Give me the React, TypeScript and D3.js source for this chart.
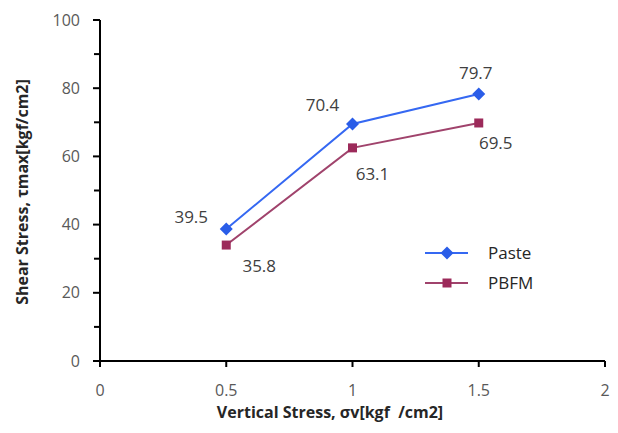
import React from "react";
import * as d3 from "d3";

const xValues = [0.5, 1, 1.5];
const pasteValues = [38.7, 69.5, 78.3];
const pbfmValues = [34.0, 62.5, 69.8];
const pasteLabels = ["39.5", "70.4", "79.7"];
const pbfmLabels = ["35.8", "63.1", "69.5"];
const xTicks = [0, 0.5, 1, 1.5, 2];
const yTicks = [0, 20, 40, 60, 80, 100];
const yMinorTicks = [10, 30, 50, 70, 90];
const seriesNames = ["Paste", "PBFM"];

const W = 618;
const H = 433;
const left = 100;
const right = 605;
const top = 20;
const bottom = 361;

const pasteColor = "#3568f2";
const pasteMarker = "#2a5de8";
const pbfmColor = "#a0436c";
const pbfmMarker = "#9c2a5a";
const font = "'Open Sans', 'Liberation Sans', sans-serif";

export default function App() {
  const x = d3.scaleLinear().domain([0, 2]).range([left, right]);
  const y = d3.scaleLinear().domain([0, 100]).range([bottom, top]);
  const line = d3
    .line<[number, number]>()
    .x((d) => x(d[0]))
    .y((d) => y(d[1]));
  const pastePts = xValues.map((v, i) => [v, pasteValues[i]] as [number, number]);
  const pbfmPts = xValues.map((v, i) => [v, pbfmValues[i]] as [number, number]);
  const r = 6.5;
  const diamond = `M0,${-r}L${r},0L0,${r}L${-r},0Z`;
  const square = d3.symbol().type(d3.symbolSquare).size(81)();

  // label offsets (dx, dy) relative to point
  const pasteOff: [number, number][] = [[-35, -12], [-30, -19], [-3, -21]];
  const pbfmOff: [number, number][] = [[33, 21], [20, 26], [17, 20]];

  return (
    <svg
      width={W}
      height={H}
      style={{ position: "absolute", left: 0, top: 0, background: "#fff" }}
      fontFamily={font}
    >
      {/* y axis */}
      <line x1={left} x2={left} y1={top} y2={bottom} stroke="#000" strokeWidth={2} />
      {yTicks.map((t) => (
        <g key={"y" + t}>
          <line x1={left - 7} x2={left} y1={y(t)} y2={y(t)} stroke="#000" strokeWidth={2} />
          <text x={left - 20} y={y(t)} dy="0.35em" textAnchor="end" fontSize={16} fill="#595959">
            {t}
          </text>
        </g>
      ))}
      {yMinorTicks.map((t) => (
        <line key={"ym" + t} x1={left - 6} x2={left} y1={y(t)} y2={y(t)} stroke="#000" strokeWidth={2} />
      ))}
      {/* x axis */}
      <line x1={left - 7} x2={right} y1={bottom} y2={bottom} stroke="#000" strokeWidth={2} />
      {xTicks.map((t) => (
        <g key={"x" + t}>
          <line x1={x(t)} x2={x(t)} y1={bottom} y2={bottom + 6} stroke="#000" strokeWidth={2} />
          <text x={x(t)} y={bottom + 35} textAnchor="middle" fontSize={16} fill="#595959">
            {t}
          </text>
        </g>
      ))}
      {/* axis titles */}
      <text
        x={330}
        y={418}
        textAnchor="middle"
        fontSize={16}
        fontWeight="bold"
        fill="#262626"
        style={{ whiteSpace: "pre" }}
      >
        {"Vertical Stress, σv[kgf  /cm2]"}
      </text>
      <text
        transform={`translate(28,${192}) rotate(-90)`}
        textAnchor="middle"
        fontSize={16}
        fontWeight="bold"
        fill="#262626"
      >
        Shear Stress, τmax[kgf/cm2]
      </text>
      {/* lines */}
      <path d={line(pastePts) || ""} fill="none" stroke={pasteColor} strokeWidth={2} />
      <path d={line(pbfmPts) || ""} fill="none" stroke={pbfmColor} strokeWidth={2} />
      {pastePts.map((p, i) => (
        <path key={"pm" + i} d={diamond} transform={`translate(${x(p[0])},${y(p[1])})`} fill={pasteMarker} />
      ))}
      {pbfmPts.map((p, i) => (
        <path key={"bm" + i} d={square || ""} transform={`translate(${x(p[0])},${y(p[1])})`} fill={pbfmMarker} />
      ))}
      {/* data labels */}
      {pastePts.map((p, i) => (
        <text
          key={"pl" + i}
          x={x(p[0]) + pasteOff[i][0]}
          y={y(p[1]) + pasteOff[i][1]}
          dy="0.35em"
          textAnchor="middle"
          fontSize={17}
          fill="#404040"
        >
          {pasteLabels[i]}
        </text>
      ))}
      {pbfmPts.map((p, i) => (
        <text
          key={"bl" + i}
          x={x(p[0]) + pbfmOff[i][0]}
          y={y(p[1]) + pbfmOff[i][1]}
          dy="0.35em"
          textAnchor="middle"
          fontSize={17}
          fill="#404040"
        >
          {pbfmLabels[i]}
        </text>
      ))}
      {/* legend */}
      {seriesNames.map((name, i) => {
        const ly = 253 + i * 30;
        return (
          <g key={"lg" + name}>
            <line x1={425} x2={468} y1={ly} y2={ly} stroke={i === 0 ? pasteColor : pbfmColor} strokeWidth={2} />
            <path
              d={(i === 0 ? diamond : square) || ""}
              transform={`translate(447,${ly})`}
              fill={i === 0 ? pasteMarker : pbfmMarker}
            />
            <text x={488} y={ly} dy="0.35em" fontSize={17} fill="#262626">
              {name}
            </text>
          </g>
        );
      })}
    </svg>
  );
}
